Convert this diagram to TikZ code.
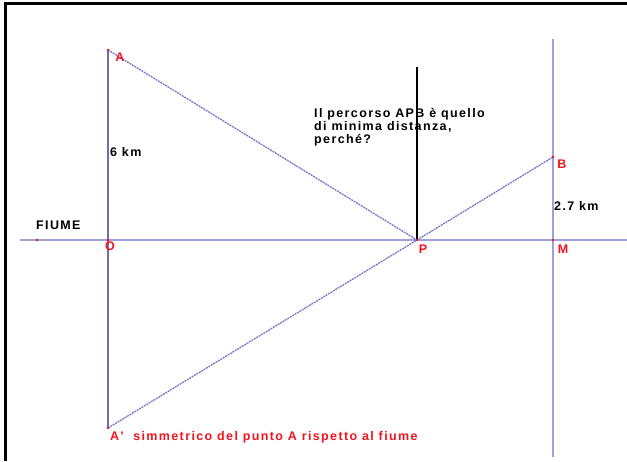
\documentclass[tikz,border=0pt]{standalone}
\usepackage{fontspec}
\setmainfont{Liberation Sans}
\newfontfamily\lblfont[LetterSpace=11]{Liberation Sans Bold}
\definecolor{axiscol}{RGB}{160,160,220}
\definecolor{segcol}{RGB}{120,120,205}
\definecolor{ptred}{RGB}{240,20,30}
\begin{document}
\begin{tikzpicture}[x=1pt,y=-1pt,
  lbl/.style={font=\lblfont\fontsize{12.5}{13}\selectfont, inner sep=0pt},
  ptlbl/.style={lbl, text=ptred},
  axis/.style={draw=axiscol, line width=2.5pt},
  seg/.style={draw=segcol, line width=1.3pt, dash pattern=on 2pt off 0.8pt}]
\useasboundingbox (0,0) rectangle (627,461);
% frame
\draw[line width=3pt] (5,461) -- (5,3) -- (627,3);
% points
\coordinate (A) at (108,50);
\coordinate (O) at (108,240);
\coordinate (A1) at (108,428);
\coordinate (P) at (417,240);
\coordinate (M) at (553,240);
\coordinate (B) at (553,157);
\coordinate (F) at (37,240);
\coordinate (Rl) at (20,240);
\coordinate (Rr) at (627,240);
\coordinate (Mt) at (553,39);
\coordinate (Mb) at (553,457);
\coordinate (Pt) at (417,67);
% river and perpendiculars
\draw[axis] (Rl) -- (Rr);
\draw[axis] (Mt) -- (Mb);
\draw[draw=segcol!90!black, line width=2pt] (A) -- (A1);
% path
\draw[seg] (A) -- (P);
\draw[seg] (P) -- (B);
\draw[seg] (A1) -- (P);
\draw[line width=2pt] (Pt) -- (P);
\foreach \p in {A,O,A1,P,M,B,F}
  \fill[ptred] (\p) circle (1.3pt);
% labels
\node[ptlbl] (lA) at (120,57) {A};
\node[ptlbl] (lO) at (110,246) {O};
\node[ptlbl] (lP) at (423,249) {P};
\node[ptlbl] (lM) at (563,249) {M};
\node[ptlbl] (lB) at (562,164) {B};
\node[lbl, anchor=west] (dA) at (110,152) {6 km};
\node[lbl, anchor=west] (dB) at (554,206) {2.7 km};
\node[lbl, anchor=west] (fiume) at (36,225) {FIUME};
\node[lbl, anchor=north west, align=left] (quest) at (314,108)
  {Il percorso APB è quello\\di minima distanza,\\perché?};
\node[ptlbl, anchor=west] (lA1) at (110,437) {A'\ \ simmetrico del punto A rispetto al fiume};
\end{tikzpicture}
\end{document}
